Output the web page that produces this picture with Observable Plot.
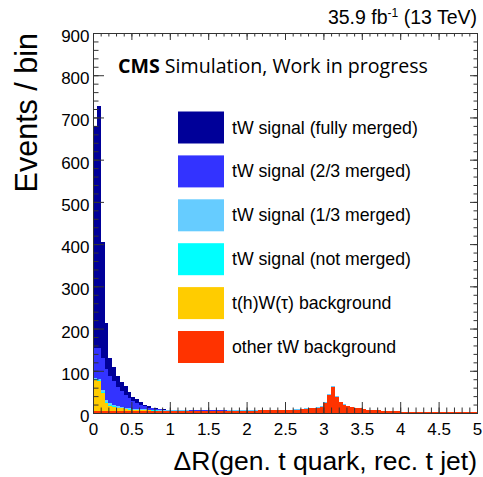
<!DOCTYPE html>
<html><head><meta charset="utf-8">
<script src="https://cdn.jsdelivr.net/npm/d3@7"></script>
<script src="https://cdn.jsdelivr.net/npm/@observablehq/plot@0.6"></script>
<style>body{margin:0;background:#fff}#chart{width:483px;height:477px}</style>
</head><body><div id="chart"></div>
<script>
// stacking order: bottom to top
const components = ["other tW background","t(h)W(τ) background","tW signal (not merged)","tW signal (1/3 merged)","tW signal (2/3 merged)","tW signal (fully merged)"];
const colors = ["#ff3300","#ffcc00","#00ffff","#66ccff","#3333ff","#000099"];
const legendOrder = ["tW signal (fully merged)","tW signal (2/3 merged)","tW signal (1/3 merged)","tW signal (not merged)","t(h)W(τ) background","other tW background"];

const binWidth = 0.05;
const otherBkg = [4,5,5,5,5,5,5,5,4,4, 4,4,4,4,4,4,4,4,4,4,
  4,4,4,4,4,4,4,4,4,4, 4,4,4,4,4,5,5,5,5,5,
  5,5,5,6,6,6,6,6,6,6, 7,7,8,8,9,10,11,12,13,15,
  24,43,62,39,26,20,16,14,12,11, 9,8,7,6,6,5,5,4,4,4,
  3,3,3,3,3,3,3,2,2,2, 2,2,2,2,2,2,2,2,2,2];
const thwBkg = [75,70,42,19,12,9,7,6,5,4, 3,3,2,2,2,1,1,1,1,1,
  1,1,1,1,1,0,0,0,0,0, 0,0,0,0,0,0,0,0,0,0,
  0,0,0,0,0,0,0,0,0,0, 0,0,0,0,0,0,0,0,0,0,
  0,0,0,0,0,0,0,0,0,0, 0,0,0,0,0,0,0,0,0,0,
  0,0,0,0,0,0,0,0,0,0, 0,0,0,0,0,0,0,0,0,0];
const notMerged = [1,2,2,2,2,2,1,1,1,1, 1,1,1,1,1,1,1,0,0,0,
  0,0,0,0,0,0,0,0,0,0, 0,0,0,0,0,0,0,0,0,0,
  0,0,0,0,0,0,0,0,0,0, 0,0,0,0,0,0,0,0,0,0,
  0,0,0,0,0,0,0,0,0,0, 0,0,0,0,0,0,0,0,0,0,
  0,0,0,0,0,0,0,0,0,0, 0,0,0,0,0,0,0,0,0,0];
const oneThird = [3,4,5,5,5,4,4,3,3,3, 2,2,2,2,1,1,1,1,1,1,
  1,1,1,1,1,1,1,1,1,1, 1,1,1,1,1,1,1,1,1,1,
  1,1,1,1,1,1,1,1,1,1, 1,1,1,1,1,1,1,1,1,1,
  1,1,1,1,1,1,1,1,1,1, 0,0,0,0,0,0,0,0,0,0,
  0,0,0,0,0,0,0,0,0,0, 0,0,0,0,0,0,0,0,0,0];
const twoThird = [72,74,76,74,64,55,45,37,29,23, 18,13,10,7,5,4,3,3,2,2,
  1,1,1,1,1,1,1,1,1,1, 1,1,1,1,1,1,1,1,1,1,
  1,1,1,1,1,1,1,1,1,1, 0,0,0,0,0,0,0,0,0,0,
  0,0,0,0,0,0,0,0,0,0, 0,0,0,0,0,0,0,0,0,0,
  0,0,0,0,0,0,0,0,0,0, 0,0,0,0,0,0,0,0,0,0];
const fullyMerged = [525,572,275,109,42,35,26,21,21,15, 11,10,6,4,3,2,1,1,1,0,
  0,0,0,0,0,0,0,0,0,0, 0,0,0,0,0,0,0,0,0,0,
  0,0,0,0,0,0,0,0,0,0, 0,0,0,0,0,0,0,0,0,0,
  0,0,0,0,0,0,0,0,0,0, 0,0,0,0,0,0,0,0,0,0,
  0,0,0,0,0,0,0,0,0,0, 0,0,0,0,0,0,0,0,0,0];
const series = [otherBkg, thwBkg, notMerged, oneThird, twoThird, fullyMerged];

const xTickValues = [0,0.5,1,1.5,2,2.5,3,3.5,4,4.5,5];
const xTickLabels = ["0","0.5","1","1.5","2","2.5","3","3.5","4","4.5","5"];
const yTickValues = [0,100,200,300,400,500,600,700,800,900];
const yTickLabels = ["0","100","200","300","400","500","600","700","800","900"];
const xMinor = d3.range(0, 5.001, 0.1);
const yMinor = d3.range(0, 900.1, 20);

const W = 483, H = 477, mL = 93, mR = 6, mT = 33, mB = 64;
const innerW = W - mL - mR, innerH = H - mT - mB;

const rows = [];
components.forEach((c, k) => series[k].forEach((v, i) => {
  rows.push({comp: c, x1: i * binWidth, x2: (i + 1) * binWidth, n: v});
}));

const tickColor = "#333";
const plot = Plot.plot({
  width: W, height: H,
  marginLeft: mL, marginRight: mR, marginTop: mT, marginBottom: mB,
  x: {domain: [0, 5], label: null},
  y: {domain: [0, 900], label: null},
  color: {domain: components, range: colors},
  style: {fontFamily: "'Liberation Sans', Arial, sans-serif", fontSize: "17px", background: "#fff", color: "#000", overflow: "visible"},
  marks: [
    Plot.rectY(rows, {x1: "x1", x2: "x2", y: "n", fill: "comp", z: "comp", order: components, shapeRendering: "crispEdges"}),
    Plot.tickX(xMinor, {x: d => d, stroke: tickColor, insetTop: innerH - 5.5}),
    Plot.tickX(xTickValues, {x: d => d, stroke: tickColor, insetTop: innerH - 11}),
    Plot.tickX(xMinor, {x: d => d, stroke: tickColor, insetBottom: innerH - 3.5}),
    Plot.tickX(xTickValues, {x: d => d, stroke: tickColor, insetBottom: innerH - 7}),
    Plot.tickY(yMinor, {y: d => d, stroke: tickColor, insetRight: innerW - 5.5}),
    Plot.tickY(yTickValues, {y: d => d, stroke: tickColor, insetRight: innerW - 11}),
    Plot.tickY(yMinor, {y: d => d, stroke: tickColor, insetLeft: innerW - 3.5}),
    Plot.tickY(yTickValues, {y: d => d, stroke: tickColor, insetLeft: innerW - 7}),
    Plot.frame({stroke: tickColor}),
    Plot.axisX({ticks: xTickValues, tickFormat: d => xTickLabels[xTickValues.indexOf(d)], tickSize: 0, tickPadding: 9, fontSize: 17, fill: "#000", label: null}),
    Plot.axisY({ticks: yTickValues, tickFormat: d => yTickLabels[yTickValues.indexOf(d)], tickSize: 0, tickPadding: 4, dy: 3, fontSize: 17, fill: "#000", label: null})
  ]
});
document.getElementById("chart").appendChild(plot);

const svg = d3.select(plot);
const ff = "'Liberation Sans', Arial, sans-serif";

// lumi label
const lumi = svg.append("text").attr("x", W - 6).attr("y", 24).attr("text-anchor", "end")
  .attr("font-family", ff).attr("font-size", 19.5).attr("fill", "#000");
lumi.append("tspan").text("35.9 fb");
lumi.append("tspan").attr("dy", -7).attr("font-size", 12).text("-1");
lumi.append("tspan").attr("dy", 7).text(" (13 TeV)");

// CMS label
const cms = svg.append("text").attr("x", 118).attr("y", 73).attr("text-anchor", "start")
  .attr("font-family", "'Open Sans', sans-serif").attr("font-size", 19.6).attr("fill", "#000");
cms.append("tspan").attr("font-weight", "bold").text("CMS");
cms.append("tspan").text(" Simulation, Work in progress");

// legend
const colorOf = c => colors[components.indexOf(c)];
legendOrder.forEach((c, i) => {
  const cy = 127.5 + i * 43.9;
  svg.append("rect").attr("x", 178).attr("y", cy - 16).attr("width", 46).attr("height", 32)
    .attr("fill", colorOf(c));
  svg.append("text").attr("x", 232).attr("y", cy + 6).attr("text-anchor", "start").attr("font-family", ff)
    .attr("font-size", 17.7).attr("fill", "#000").text(c);
});

// axis titles
svg.append("text").attr("x", W - 6).attr("y", 470).attr("text-anchor", "end")
  .attr("font-family", ff).attr("font-size", 26.5).attr("fill", "#000")
  .text("ΔR(gen. t quark, rec. t jet)");
svg.append("text").attr("transform", `translate(37,${mT}) rotate(-90)`).attr("text-anchor", "end")
  .attr("font-family", ff).attr("font-size", 30.5).attr("fill", "#000")
  .text("Events / bin");
</script>
</body></html>
